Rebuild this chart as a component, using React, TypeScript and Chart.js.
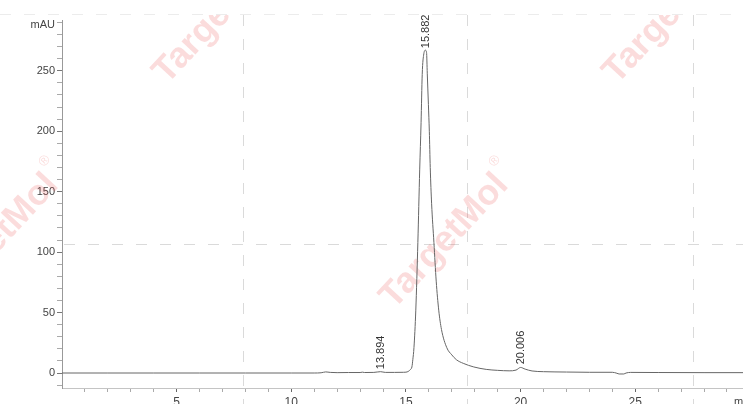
import React, { useEffect, useRef } from 'react';
import { Chart, registerables } from 'chart.js';

Chart.register(...registerables);

// Retention time (min)
const times = [
  0, 2, 4, 6, 8, 10, 11, 11.3, 11.5, 11.7, 12, 12.5, 13, 13.1, 13.2, 13.6, 13.894, 14.1, 14.5, 14.9,
  15.0, 15.1, 15.2, 15.26, 15.3, 15.35, 15.43, 15.52, 15.6, 15.66, 15.71, 15.78, 15.85, 15.9, 15.93,
  15.98, 16.02, 16.06, 16.12, 16.22, 16.32, 16.43, 16.55, 16.78, 17.0, 17.2, 17.5, 17.96, 18.5, 19.0,
  19.5, 19.8, 20.0, 20.2, 20.5, 21.0, 21.5, 22.0, 23.0, 24.0, 24.2, 24.3, 24.5, 24.6, 24.8, 26, 28, 29.7,
];
// Absorbance (mAU)
const signal = [
  0, 0, 0, 0, 0, 0, 0, 0.2, 0.9, 0.5, 0.3, 0.4, 0.4, 0.7, 0.4, 0.5, 1.1, 0.5, 0.5, 0.6,
  0.7, 1.3, 3, 5, 11, 21, 52, 108, 168, 207, 247, 264, 267, 265, 248,
  222, 200, 170, 140, 108, 76, 52, 36, 21, 15, 11, 8, 5, 3, 2.2,
  1.8, 2.4, 4.6, 3.2, 1.7, 1.1, 0.9, 0.8, 0.6, 0.6, -0.2, -0.8, -0.8, 0, 0.5, 0.4, 0.3, 0.3,
];

const peakTimes = [13.894, 15.882, 20.006];
const peakHeights = [1.5, 267, 5.5];
const peakLabels = ['13.894', '15.882', '20.006'];

const xTicks = [1, 2, 3, 4, 5, 6, 7, 8, 9, 10, 11, 12, 13, 14, 15, 16, 17, 18, 19, 20, 21, 22, 23, 24, 25, 26, 27, 28, 29];
const xLabelTicks = [5, 10, 15, 20, 25];
const yTicks = [-10, 0, 10, 20, 30, 40, 50, 60, 70, 80, 90, 100, 110, 120, 130, 140, 150, 160, 170, 180, 190, 200, 210, 220, 230, 240, 250, 260, 270, 280, 290];
const yLabelTicks = [0, 50, 100, 150, 200, 250];
const yUnit = 'mAU';
const xUnit = 'min';
const watermarkText = 'TargetMol';

const FONT = '"Liberation Sans", Arial, sans-serif';

const decorPlugin = {
  id: 'decor',
  beforeDatasetsDraw(chart: any) {
    const ctx = chart.ctx as CanvasRenderingContext2D;
    const W = chart.width;
    const H = chart.height;
    ctx.save();
    ctx.lineWidth = 1;
    ctx.setLineDash([11, 13]);
    ctx.strokeStyle = '#ececec';
    ctx.beginPath();
    ctx.moveTo(0, 14.5);
    ctx.lineTo(W, 14.5);
    ctx.stroke();
    ctx.strokeStyle = '#dadada';
    ctx.beginPath();
    ctx.moveTo(chart.chartArea.left + 2, 244.5);
    ctx.lineTo(W, 244.5);
    ctx.stroke();
    [243.5, 467.5, 693.5].forEach((x) => {
      ctx.beginPath();
      ctx.moveTo(x, 15);
      ctx.lineTo(x, H);
      ctx.stroke();
    });
    ctx.setLineDash([]);
    // watermarks
    ctx.beginPath();
    ctx.rect(0, 15, W, H - 15);
    ctx.clip();
    ctx.fillStyle = 'rgba(236, 70, 70, 0.19)';
    const anchors = [
      [394, 310],
      [-56, 310],
      [167, 85],
      [617, 85],
    ];
    anchors.forEach(([ax, ay]) => {
      ctx.save();
      ctx.translate(ax, ay);
      ctx.rotate((-47 * Math.PI) / 180);
      ctx.font = `bold 36px ${FONT}`;
      ctx.textAlign = 'left';
      ctx.textBaseline = 'alphabetic';
      ctx.fillText(watermarkText, 0, 0);
      const w = ctx.measureText(watermarkText).width;
      ctx.font = `14px ${FONT}`;
      ctx.fillText('®', w + 3, -24);
      ctx.restore();
    });
    ctx.restore();
  },
  afterDraw(chart: any) {
    const ctx = chart.ctx as CanvasRenderingContext2D;
    const xs = chart.scales.x;
    const ys = chart.scales.y;
    ctx.save();
    ctx.fillStyle = '#333';
    ctx.font = `11px ${FONT}`;
    peakTimes.forEach((t, i) => {
      const x = xs.getPixelForValue(t);
      const y = ys.getPixelForValue(peakHeights[i]) - 2;
      ctx.save();
      ctx.translate(x, y);
      ctx.rotate(-Math.PI / 2);
      ctx.textAlign = 'left';
      ctx.textBaseline = 'middle';
      ctx.fillText(peakLabels[i], 0, 0);
      ctx.restore();
    });
    ctx.fillStyle = '#444';
    ctx.font = `11px ${FONT}`;
    ctx.textAlign = 'right';
    ctx.textBaseline = 'middle';
    ctx.fillText(yUnit, chart.chartArea.left - 7, 25);
    ctx.textAlign = 'left';
    ctx.textBaseline = 'top';
    ctx.fillText(xUnit, 734, 396);
    ctx.restore();
  },
};

export default function App() {
  const canvasRef = useRef<HTMLCanvasElement | null>(null);

  useEffect(() => {
    const canvas = canvasRef.current;
    if (!canvas) return;
    const chart = new Chart(canvas, {
      type: 'line',
      data: {
        datasets: [
          {
            data: times.map((t, i) => ({ x: t, y: signal[i] })),
            borderColor: '#666',
            borderWidth: 1,
            pointRadius: 0,
            cubicInterpolationMode: 'monotone',
            fill: false,
          },
        ],
      },
      options: {
        responsive: false,
        animation: false,
        layout: { padding: { top: 20, right: 0, left: 0, bottom: 0 } },
        plugins: {
          legend: { display: false },
          tooltip: { enabled: false },
        },
        scales: {
          x: {
            type: 'linear',
            min: 0,
            max: 29.7,
            afterFit: (scale: any) => {
              scale.height = 16;
            },
            afterBuildTicks: (scale: any) => {
              scale.ticks = xTicks.map((v) => ({ value: v }));
            },
            border: { display: true, color: '#c4c4c4', width: 1 },
            grid: {
              drawOnChartArea: false,
              drawTicks: true,
              tickLength: 4,
              tickColor: (ctx: any) => (xLabelTicks.includes(ctx.tick?.value) ? '#666' : '#aaa'),
            },
            ticks: {
              autoSkip: false,
              maxRotation: 0,
              padding: 3,
              color: '#444',
              font: { family: FONT, size: 12 },
              callback: (v: any) => (xLabelTicks.includes(Number(v)) ? String(v) : ''),
            },
          },
          y: {
            type: 'linear',
            min: -12.4,
            max: 292,
            afterFit: (scale: any) => {
              scale.width = 62;
            },
            afterBuildTicks: (scale: any) => {
              scale.ticks = yTicks.map((v) => ({ value: v }));
            },
            border: { display: true, color: '#999', width: 1 },
            grid: {
              drawOnChartArea: false,
              drawTicks: true,
              tickLength: 5,
              tickColor: (ctx: any) => (yLabelTicks.includes(ctx.tick?.value) ? '#777' : '#aaa'),
            },
            ticks: {
              autoSkip: false,
              padding: 2,
              color: '#444',
              font: { family: FONT, size: 11 },
              callback: (v: any) => (yLabelTicks.includes(Number(v)) ? String(v) : ''),
            },
          },
        },
      },
      plugins: [decorPlugin],
    } as any);
    return () => chart.destroy();
  }, []);

  return (
    <div style={{ position: 'absolute', left: 0, top: 0, width: 743, height: 404, background: '#fff' }}>
      <canvas ref={canvasRef} width={743} height={404} style={{ display: 'block' }} />
    </div>
  );
}
